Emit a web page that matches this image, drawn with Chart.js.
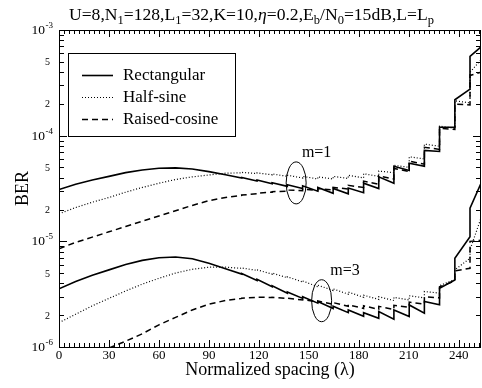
<!DOCTYPE html>
<html>
<head>
<meta charset="utf-8">
<script src="https://cdn.jsdelivr.net/npm/chart.js@4.4.1/dist/chart.umd.min.js"></script>
<style>
  html, body { margin: 0; padding: 0; background: #fff; }
  #wrap { width: 482px; height: 388px; }
</style>
</head>
<body>
<div id="wrap"><canvas id="berChart"></canvas></div>
<script>
// normalized spacing (lambda): smooth part, then the stair steps, then the right edge
var smoothSpacing = [0, 10, 20, 30, 40, 50, 60, 70, 80, 90, 100];
var stepSpacing = [109.7, 118.9, 128.0, 137.1, 146.3, 155.4, 164.6, 173.7, 182.9, 192.0, 201.1, 210.3, 219.4, 228.5, 237.7, 246.8];
var lastSpacing = 253.4;

// BER as log10 exponents
// smooth values, then [before, after] at each step, then the last value
var rectM1Smooth = [-4.51, -4.46, -4.42, -4.385, -4.35, -4.325, -4.308, -4.305, -4.315, -4.34, -4.37];
var rectM1Steps = [[-4.40, -4.395], [-4.43, -4.42], [-4.455, -4.445], [-4.48, -4.465], [-4.50, -4.475], [-4.525, -4.49], [-4.545, -4.50], [-4.55, -4.495], [-4.54, -4.45], [-4.50, -4.39], [-4.45, -4.29], [-4.33, -4.26], [-4.29, -4.14], [-4.15, -3.92], [-3.92, -3.66], [-3.56, -3.25]];
var rectM1Last = -3.16;

var halfM1Smooth = [-4.74, -4.68, -4.63, -4.585, -4.535, -4.49, -4.45, -4.415, -4.39, -4.372, -4.355];
var halfM1Steps = [[-4.352, -4.348], [-4.358, -4.352], [-4.37, -4.362], [-4.385, -4.375], [-4.40, -4.385], [-4.41, -4.39], [-4.41, -4.385], [-4.405, -4.375], [-4.40, -4.36], [-4.385, -4.335], [-4.35, -4.28], [-4.30, -4.20], [-4.22, -4.08], [-4.10, -3.91], [-3.93, -3.67], [-3.69, -3.40]];
var halfM1Last = -3.28;

var raisedM1Smooth = [-5.07, -5.01, -4.96, -4.91, -4.86, -4.81, -4.76, -4.71, -4.66, -4.615, -4.585];
var raisedM1Steps = [[-4.565, -4.562], [-4.55, -4.545], [-4.535, -4.53], [-4.525, -4.515], [-4.52, -4.505], [-4.52, -4.50], [-4.515, -4.49], [-4.505, -4.47], [-4.49, -4.43], [-4.46, -4.38], [-4.41, -4.31], [-4.34, -4.24], [-4.27, -4.11], [-4.13, -3.93], [-3.94, -3.70], [-3.71, -3.43]];
var raisedM1Last = -3.40;

var rectM3Smooth = [-5.45, -5.38, -5.32, -5.27, -5.22, -5.18, -5.155, -5.148, -5.165, -5.207, -5.26];
var rectM3Steps = [[-5.31, -5.305], [-5.37, -5.36], [-5.43, -5.42], [-5.49, -5.48], [-5.54, -5.525], [-5.585, -5.57], [-5.635, -5.615], [-5.675, -5.65], [-5.71, -5.675], [-5.728, -5.665], [-5.737, -5.649], [-5.712, -5.602], [-5.68, -5.57], [-5.60, -5.444], [-5.365, -5.16], [-4.956, -4.687]];
var rectM3Last = -4.45;

var halfM3Smooth = [-5.77, -5.69, -5.61, -5.54, -5.47, -5.405, -5.35, -5.30, -5.265, -5.245, -5.245];
var halfM3Steps = [[-5.255, -5.252], [-5.275, -5.27], [-5.31, -5.30], [-5.345, -5.335], [-5.385, -5.375], [-5.43, -5.415], [-5.465, -5.45], [-5.50, -5.48], [-5.53, -5.51], [-5.55, -5.525], [-5.56, -5.53], [-5.555, -5.515], [-5.535, -5.475], [-5.49, -5.42], [-5.36, -5.27], [-5.16, -5.08]];
var halfM3Last = -4.78;

// raised-cosine m=3 is below 1e-6 until about lambda = 30
var raisedM3Smooth = [null, null, null, -6.01, -5.945, -5.875, -5.79, -5.72, -5.65, -5.595, -5.56];
var raisedM3Steps = [[-5.54, -5.538], [-5.53, -5.528], [-5.532, -5.53], [-5.54, -5.537], [-5.555, -5.55], [-5.575, -5.565], [-5.595, -5.58], [-5.615, -5.60], [-5.635, -5.61], [-5.645, -5.615], [-5.645, -5.605], [-5.625, -5.575], [-5.595, -5.525], [-5.535, -5.43], [-5.375, -5.28], [-5.255, -5.00]];
var raisedM3Last = -4.99;

// axis ticks
var yDecades = [-6, -5, -4, -3];
var yMinorMantissas = [2, 3, 4, 5, 6, 7, 8, 9];
var yLabeledMantissas = [2, 5];
var xMajorStep = 30;
var xMinorStep = 3;

var pulseNames = ["Rectangular", "Half-sine", "Raised-cosine"];
var groupNotes = [
  { text: "m=1", x: 154.7, e: -4.16, ringX: 142.4, ringE: -4.447 },
  { text: "m=3", x: 171.7, e: -5.28, ringX: 157.7, ringE: -5.562 },
];
var titleParts = [["U=8,N", 0], ["1", 1], ["=128,L", 0], ["1", 1], ["=32,K=10,", 0], ["\u03b7", 2], ["=0.2,E", 0], ["b", 1], ["/N", 0], ["0", 1], ["=15dB,L=L", 0], ["p", 1]];

var serif = "'Liberation Serif', 'Times New Roman', serif";
Chart.defaults.font.family = serif;
Chart.defaults.color = "#000";

function buildPoints(smooth, steps, last) {
  var pts = smoothSpacing.map(function (x, i) {
    return { x: x, y: smooth[i] === null ? null : Math.pow(10, smooth[i]) };
  });
  stepSpacing.forEach(function (x, i) {
    pts.push({ x: x, y: Math.pow(10, steps[i][0]) });
    pts.push({ x: x, y: Math.pow(10, steps[i][1]) });
  });
  pts.push({ x: lastSpacing, y: Math.pow(10, last) });
  return pts;
}

var lineStyles = [
  { borderWidth: 1.6, borderDash: [] },
  { borderWidth: 1.2, borderDash: [1, 2] },
  { borderWidth: 1.5, borderDash: [6, 4] },
];

function makeSet(name, pts, style) {
  return {
    label: name,
    data: pts,
    borderColor: "#000",
    borderWidth: style.borderWidth,
    borderDash: style.borderDash,
    pointRadius: 0,
    tension: 0,
    fill: false,
  };
}

var datasets = [
  makeSet("Rectangular m=1", buildPoints(rectM1Smooth, rectM1Steps, rectM1Last), lineStyles[0]),
  makeSet("Half-sine m=1", buildPoints(halfM1Smooth, halfM1Steps, halfM1Last), lineStyles[1]),
  makeSet("Raised-cosine m=1", buildPoints(raisedM1Smooth, raisedM1Steps, raisedM1Last), lineStyles[2]),
  makeSet("Rectangular m=3", buildPoints(rectM3Smooth, rectM3Steps, rectM3Last), lineStyles[0]),
  makeSet("Half-sine m=3", buildPoints(halfM3Smooth, halfM3Steps, halfM3Last), lineStyles[1]),
  makeSet("Raised-cosine m=3", buildPoints(raisedM3Smooth, raisedM3Steps, raisedM3Last), lineStyles[2]),
];

// title with subscripts
var titlePlugin = {
  id: "subTitle",
  afterDraw: function (chart) {
    var ctx = chart.ctx;
    var fonts = ["17.6px " + serif, "12.5px " + serif, "italic 17.6px " + serif];
    ctx.save();
    ctx.fillStyle = "#000";
    ctx.textBaseline = "alphabetic";
    var w = 0;
    titleParts.forEach(function (p) { ctx.font = fonts[p[1]]; w += ctx.measureText(p[0]).width; });
    var x = 251.5 - w / 2;
    titleParts.forEach(function (p) {
      ctx.font = fonts[p[1]];
      ctx.fillText(p[0], x, p[1] === 1 ? 24 : 20);
      x += ctx.measureText(p[0]).width;
    });
    ctx.restore();
  },
};

// box frame, inward ticks on all sides, and the log labels with superscripts
var framePlugin = {
  id: "frame",
  afterDatasetsDraw: function (chart) {
    var ctx = chart.ctx, a = chart.chartArea, xs = chart.scales.x, ys = chart.scales.y;
    ctx.save();
    ctx.strokeStyle = "#000";
    ctx.lineWidth = 1;
    ctx.strokeRect(Math.round(a.left) + 0.5, Math.round(a.top) + 0.5, Math.round(a.right - a.left) - 1, Math.round(a.bottom - a.top));
    ctx.beginPath();
    for (var v = 0; v <= xs.max; v += xMinorStep) {
      var px = Math.round(xs.getPixelForValue(v)) + 0.5;
      var len = v % xMajorStep === 0 ? 7 : 4;
      ctx.moveTo(px, a.bottom); ctx.lineTo(px, a.bottom - len);
      ctx.moveTo(px, a.top); ctx.lineTo(px, a.top + len);
    }
    yDecades.forEach(function (e) {
      [1].concat(yMinorMantissas).forEach(function (m) {
        var val = m * Math.pow(10, e);
        if (val > ys.max * 1.0001) return;
        var py = Math.round(ys.getPixelForValue(val)) + 0.5;
        var len = m === 1 ? 8 : 5;
        ctx.moveTo(a.left, py); ctx.lineTo(a.left + len, py);
        ctx.moveTo(a.right, py); ctx.lineTo(a.right - len, py);
      });
    });
    ctx.stroke();

    ctx.fillStyle = "#000";
    ctx.textAlign = "right";
    ctx.textBaseline = "alphabetic";
    yDecades.forEach(function (e) {
      var py = ys.getPixelForValue(Math.pow(10, e));
      ctx.font = "9px " + serif;
      var sup = "-" + (-e);
      var sw = ctx.measureText(sup).width;
      ctx.fillText(sup, 53, py - 2);
      ctx.font = "13.5px " + serif;
      ctx.fillText("10", 53 - sw - 0.5, py + 4);
      if (e < -3) {
        yLabeledMantissas.forEach(function (m) {
          ctx.font = "10px " + serif;
          ctx.fillText(String(m), 50, ys.getPixelForValue(m * Math.pow(10, e)) + 3.5);
        });
      }
    });
    ctx.restore();
  },
};

// legend box and the ellipses with their m labels
var notesPlugin = {
  id: "notes",
  afterDraw: function (chart) {
    var ctx = chart.ctx, xs = chart.scales.x, ys = chart.scales.y;
    ctx.save();
    ctx.strokeStyle = "#000";
    ctx.fillStyle = "#fff";
    ctx.lineWidth = 1;
    ctx.fillRect(68, 53, 168, 84);
    ctx.strokeRect(68.5, 53.5, 167, 83);
    pulseNames.forEach(function (name, i) {
      var y = 75.5 + i * 22;
      ctx.lineWidth = lineStyles[i].borderWidth;
      ctx.setLineDash(lineStyles[i].borderDash);
      ctx.beginPath();
      ctx.moveTo(82, y); ctx.lineTo(113, y);
      ctx.stroke();
      ctx.setLineDash([]);
      ctx.fillStyle = "#000";
      ctx.font = "17px " + serif;
      ctx.textAlign = "left";
      ctx.textBaseline = "middle";
      ctx.fillText(name, 123, y);
    });
    ctx.lineWidth = 1;
    groupNotes.forEach(function (g) {
      ctx.beginPath();
      ctx.ellipse(xs.getPixelForValue(g.ringX), ys.getPixelForValue(Math.pow(10, g.ringE)), 10, 21, 0, 0, Math.PI * 2);
      ctx.stroke();
      ctx.font = "16px " + serif;
      ctx.textAlign = "center";
      ctx.textBaseline = "middle";
      ctx.fillText(g.text, xs.getPixelForValue(g.x), ys.getPixelForValue(Math.pow(10, g.e)));
    });
    ctx.restore();
  },
};

var ctx = document.getElementById("berChart").getContext("2d");
var berChart = new Chart(ctx, {
  type: "line",
  data: { datasets: datasets },
  options: {
    responsive: true,
    maintainAspectRatio: false,
    animation: false,
    devicePixelRatio: 1,
    layout: { padding: { top: 30, right: 1, bottom: 0, left: 0 } },
    plugins: {
      legend: { display: false },
      tooltip: { enabled: false },
    },
    scales: {
      x: {
        type: "linear",
        min: 0,
        max: lastSpacing,
        border: { display: false },
        grid: { display: false, drawTicks: false },
        ticks: {
          stepSize: xMajorStep,
          includeBounds: false,
          autoSkip: false,
          maxRotation: 0,
          padding: 1,
          font: { size: 13 },
        },
        title: {
          display: true,
          text: "Normalized spacing (\u03bb)",
          font: { size: 18 },
          padding: { top: 0, bottom: 7 },
        },
        afterFit: function (scale) { scale.height = 41; },
      },
      y: {
        type: "logarithmic",
        min: 1e-6,
        max: 1e-3,
        border: { display: false },
        grid: { display: false, drawTicks: false },
        ticks: { display: false },
        title: {
          display: true,
          text: "BER",
          font: { size: 18 },
          padding: { top: 12, bottom: 0 },
        },
        afterFit: function (scale) { scale.width = 59; },
      },
    },
  },
  plugins: [titlePlugin, framePlugin, notesPlugin],
});
</script>
</body>
</html>
